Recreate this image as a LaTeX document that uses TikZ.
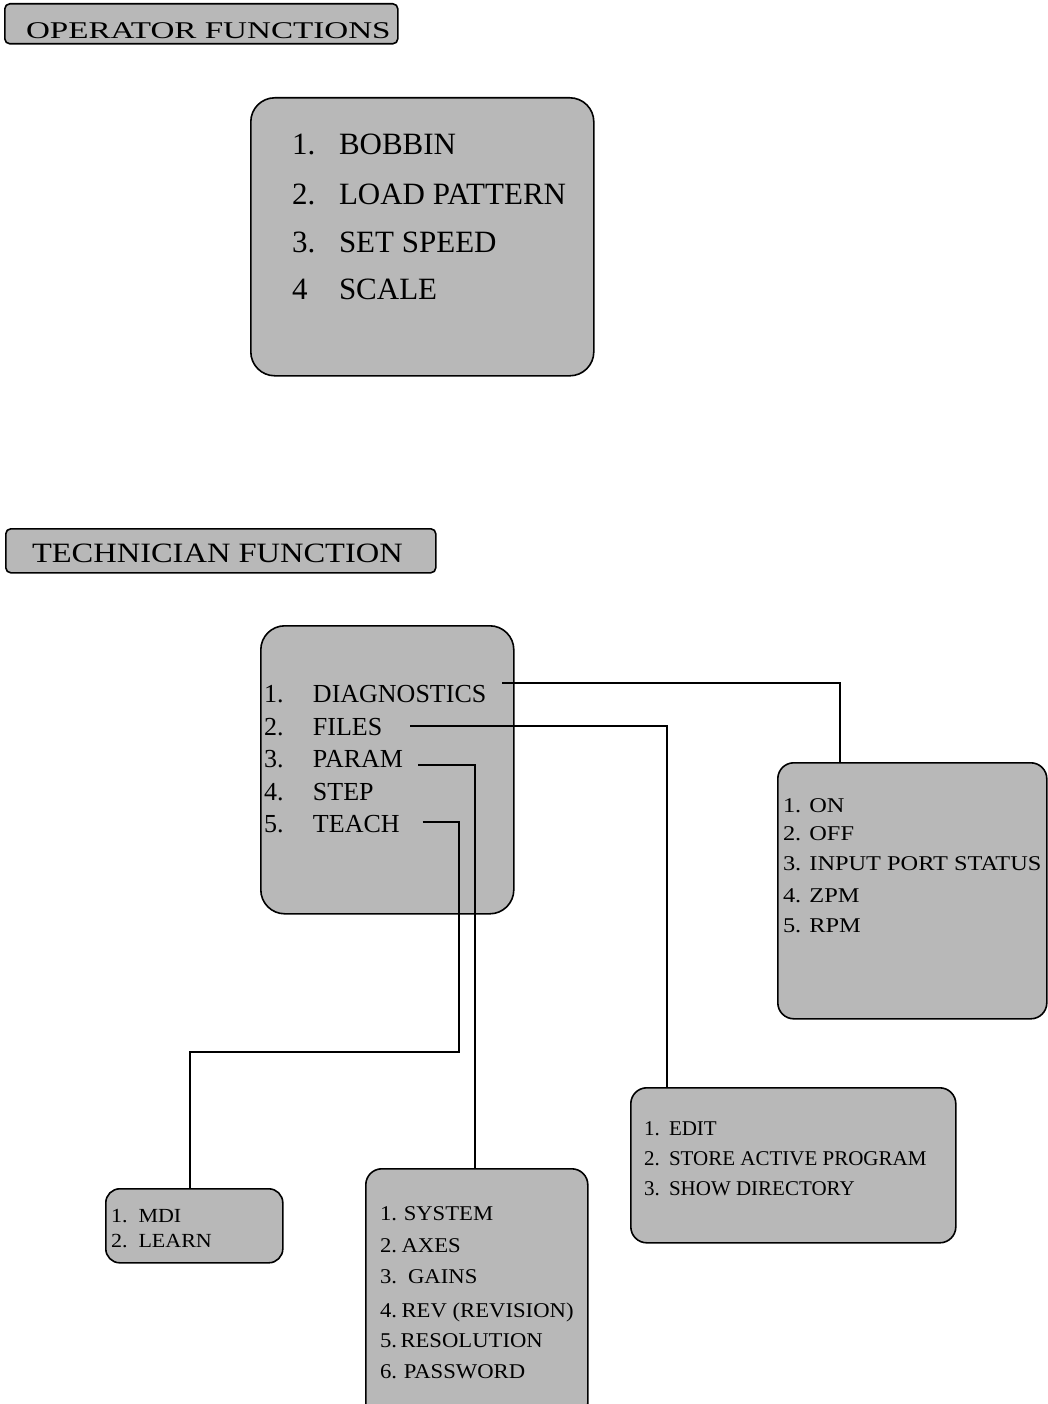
\documentclass[tikz,border=0pt]{standalone}
\usepackage{fontspec}
\setmainfont{Liberation Serif}
\definecolor{boxgray}{gray}{0.72}
\newcommand{\wx}[2]{\scalebox{#1}[1]{#2}}
\begin{document}
\begin{tikzpicture}[x=1pt,y=-1pt,
  panel/.style={draw, line width=1.6pt, fill=boxgray, inner sep=0pt},
  bigpanel/.style={panel, rounded corners=24pt},
  smallpanel/.style={panel, rounded corners=16pt},
  titlepanel/.style={panel, rounded corners=5pt},
  itemtxt/.style={anchor=base west, inner sep=0pt, outer sep=1pt},
  link/.style={line width=1.3pt}]
\useasboundingbox (0,0) rectangle (1047,1404);

% --- titles ---
\node[titlepanel, minimum width=393pt, minimum height=40pt, anchor=north west] (optitle) at (4,3) {};
\node[itemtxt] (optext) at (25,39) {\fontsize{24}{24}\selectfont\wx{1.38}{OPERATOR FUNCTIONS}};
\node[titlepanel, minimum width=430pt, minimum height=44pt, anchor=north west] (techtitle) at (5,528) {};
\node[itemtxt] (techtext) at (31,562) {\fontsize{28}{28}\selectfont\wx{1.16}{TECHNICIAN FUNCTION}};

% --- operator box ---
\node[bigpanel, minimum width=343pt, minimum height=278pt, anchor=north west] (op) at (250,97) {};
\begin{scope}[every node/.style={itemtxt}]
\node (o1) at (291,155) {\fontsize{31}{31}\selectfont\makebox[47pt][l]{1.}BOBBIN};
\node (o2) at (291,205) {\fontsize{31}{31}\selectfont\makebox[47pt][l]{2.}LOAD PATTERN};
\node (o3) at (291,253) {\fontsize{31}{31}\selectfont\makebox[47pt][l]{3.}SET SPEED};
\node (o4) at (291,300) {\fontsize{31}{31}\selectfont\makebox[47pt][l]{4}SCALE};
\end{scope}

% --- technician box ---
\node[bigpanel, minimum width=253pt, minimum height=288pt, anchor=north west] (tech) at (260,625) {};
\begin{scope}[every node/.style={itemtxt}]
\node (t1) at (263,702) {\fontsize{26}{26}\selectfont\makebox[49pt][l]{1.}DIAGNOSTICS};
\node (t2) at (263,735) {\fontsize{26}{26}\selectfont\makebox[49pt][l]{2.}FILES};
\node (t3) at (263,767) {\fontsize{26}{26}\selectfont\makebox[49pt][l]{3.}PARAM};
\node (t4) at (263,800) {\fontsize{26}{26}\selectfont\makebox[49pt][l]{4.}STEP};
\node (t5) at (263,832) {\fontsize{26}{26}\selectfont\makebox[49pt][l]{5.}TEACH};
\end{scope}

% --- sub boxes ---
\node[smallpanel, minimum width=269pt, minimum height=256pt, anchor=north west] (diag) at (777,762) {};
\node[smallpanel, minimum width=325pt, minimum height=155pt, anchor=north west] (files) at (630,1087) {};
\node[smallpanel, minimum width=222pt, minimum height=250pt, anchor=north west] (param) at (365,1168) {};
\node[smallpanel, rounded corners=14pt, minimum width=177pt, minimum height=74pt, anchor=north west] (teach) at (105,1188) {};

\begin{scope}[every node/.style={itemtxt}]
\node (d1) at (782,812) {\fontsize{21}{21}\selectfont\wx{1.16}{1. ON}};
\node (d2) at (782,840) {\fontsize{21}{21}\selectfont\wx{1.16}{2. OFF}};
\node (d3) at (782,870) {\fontsize{21}{21}\selectfont\wx{1.16}{3. INPUT PORT STATUS}};
\node (d4) at (782,902) {\fontsize{21}{21}\selectfont\wx{1.16}{4. ZPM}};
\node (d5) at (782,932) {\fontsize{21}{21}\selectfont\wx{1.16}{5. RPM}};

\node (f1) at (643,1135) {\fontsize{21}{21}\selectfont\makebox[25pt][l]{1.}EDIT};
\node (f2) at (643,1165) {\fontsize{21}{21}\selectfont\makebox[25pt][l]{2.}STORE ACTIVE PROGRAM};
\node (f3) at (643,1195) {\fontsize{21}{21}\selectfont\makebox[25pt][l]{3.}SHOW DIRECTORY};

\node (p1) at (379,1220) {\fontsize{21}{21}\selectfont\wx{1.08}{\makebox[22pt][l]{1.}SYSTEM}};
\node (p2) at (379,1252) {\fontsize{21}{21}\selectfont\wx{1.08}{\makebox[20pt][l]{2.}AXES}};
\node (p3) at (379,1283) {\fontsize{21}{21}\selectfont\wx{1.08}{\makebox[26pt][l]{3.}GAINS}};
\node (p4) at (379,1317) {\fontsize{21}{21}\selectfont\wx{1.08}{\makebox[20pt][l]{4.}REV (REVISION)}};
\node (p5) at (379,1347) {\fontsize{21}{21}\selectfont\wx{1.08}{\makebox[19pt][l]{5.}RESOLUTION}};
\node (p6) at (379,1378) {\fontsize{21}{21}\selectfont\wx{1.08}{\makebox[22pt][l]{6.}PASSWORD}};

\node (m1) at (110,1222) {\fontsize{20}{20}\selectfont\wx{1.1}{1.\ \ MDI}};
\node (m2) at (110,1247) {\fontsize{20}{20}\selectfont\wx{1.1}{2.\ \ LEARN}};
\end{scope}

% --- connectors ---
\coordinate (c1) at (840,683);
\coordinate (c2) at (667,726);
\coordinate (c3) at (475,765);
\coordinate (c4a) at (459,822);
\coordinate (c4b) at (459,1052);
\coordinate (c4c) at (190,1052);
\draw[link] (t1.east |- c1) ++(15,0) -- (c1) -- (c1 |- diag.north);
\draw[link] (t2.east |- c2) ++(27,0) -- (c2) -- (c2 |- files.north);
\draw[link] (t3.east |- c3) ++(14,0) -- (c3) -- (c3 |- param.north);
\draw[link] (t5.east |- c4a) ++(22,0) -- (c4a) -- (c4b) -- (c4c) -- (c4c |- teach.north);
\end{tikzpicture}
\end{document}
